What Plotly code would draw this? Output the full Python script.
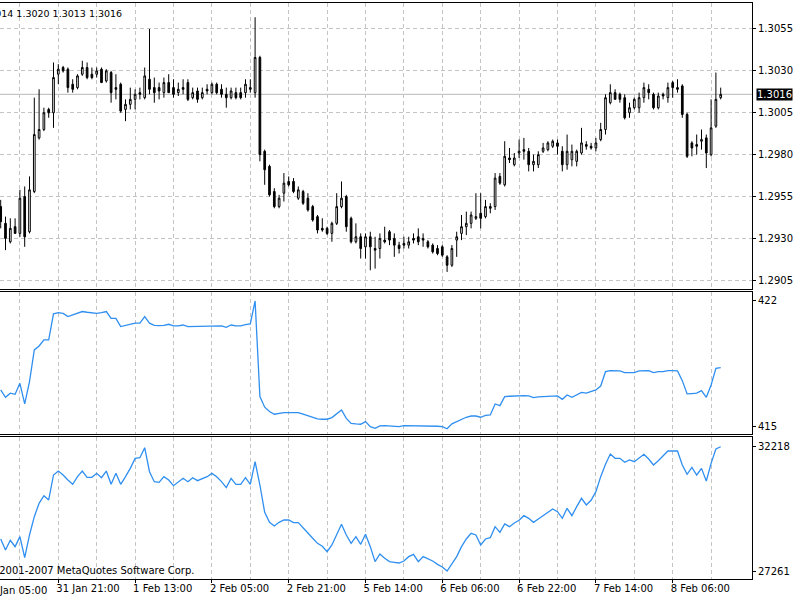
import plotly.graph_objects as go

# ---------------- data ----------------
symbol_text = "EURUSD,H1"

opens = [1.2949,1.2939,1.2928,1.2937,1.2933,1.2955,1.2934,1.2958,1.2990,1.2995,
         1.3007,1.3005,1.3028,1.3032,1.3031,1.3022,1.3020,1.3028,1.3032,1.3028,
         1.3028,1.3031,1.3024,1.3029,1.3020,1.3022,1.3007,1.3010,1.3013,1.3017,
         1.3014,1.3025,1.3020,1.3020,1.3017,1.3023,1.3020,1.3017,1.3020,1.3023,
         1.3014,1.3018,1.3014,1.3019,1.3017,1.3022,1.3019,1.3016,1.3014,1.3017,
         1.3017,1.3017,1.3020,1.3017,1.3038,1.2982,1.2973,1.2958,1.2949,1.2957,
         1.2964,1.2964,1.2954,1.2958,1.2954,1.2949,1.2943,1.2936,1.2936,1.2933,
         1.2939,1.2949,1.2955,1.2942,1.2928,1.2931,1.2925,1.2931,1.2924,1.2924,
         1.2929,1.2934,1.2930,1.2926,1.2927,1.2926,1.2930,1.2931,1.2930,1.2928,
         1.2926,1.2924,1.2925,1.2919,1.2914,1.2929,1.2933,1.2937,1.2939,1.2942,
         1.2945,1.2943,1.2949,1.2949,1.2967,1.2962,1.2978,1.2974,1.2981,1.2983,
         1.2982,1.2974,1.2974,1.2982,1.2983,1.2985,1.2987,1.2982,1.2974,1.2977,
         1.2976,1.2981,1.2986,1.2985,1.2984,1.2989,1.2995,1.3011,1.3017,1.3016,
         1.3014,1.3005,1.3008,1.3008,1.3014,1.3019,1.3016,1.3008,1.3016,1.3014,
         1.3023,1.3020,1.3021,1.3004,1.2987,1.2986,1.2988,1.2990,1.2980,1.2997,
         1.3014]
highs = [1.2953,1.2943,1.2942,1.2942,1.2959,1.2961,1.2967,1.3014,1.3019,1.3008,
         1.3008,1.3035,1.3034,1.3033,1.3032,1.3025,1.3028,1.3036,1.3035,1.3032,
         1.3032,1.3032,1.3031,1.3030,1.3028,1.3023,1.3013,1.3020,1.3019,1.3020,
         1.3032,1.3055,1.3026,1.3023,1.3026,1.3028,1.3025,1.3023,1.3025,1.3025,
         1.3020,1.3020,1.3020,1.3022,1.3023,1.3023,1.3022,1.3020,1.3020,1.3020,
         1.3020,1.3025,1.3025,1.3062,1.3039,1.2983,1.2974,1.2960,1.2956,1.2969,
         1.2967,1.2966,1.2961,1.2959,1.2957,1.2950,1.2944,1.2942,1.2937,1.2940,
         1.2957,1.2964,1.2956,1.2943,1.2939,1.2933,1.2933,1.2934,1.2931,1.2933,
         1.2937,1.2935,1.2933,1.2928,1.2931,1.2931,1.2933,1.2936,1.2933,1.2929,
         1.2927,1.2926,1.2926,1.2920,1.2926,1.2934,1.2944,1.2946,1.2946,1.2957,
         1.2957,1.2953,1.2951,1.2969,1.2969,1.2988,1.2984,1.2981,1.2989,1.2990,
         1.2984,1.2980,1.2982,1.2987,1.2988,1.2989,1.2989,1.2985,1.2992,1.2986,
         1.2983,1.2996,1.2988,1.2987,1.2990,1.2999,1.3016,1.3022,1.3019,1.3017,
         1.3016,1.3011,1.3014,1.3017,1.3023,1.3022,1.3017,1.3017,1.3017,1.3023,
         1.3024,1.3025,1.3022,1.3005,1.2988,1.2992,1.2995,1.2992,1.3013,1.3029,
         1.3020]
lows = [1.2936,1.2923,1.2927,1.2933,1.2931,1.2925,1.2933,1.2957,1.2989,1.2994,
        1.3002,1.2996,1.3022,1.3029,1.3017,1.3017,1.3019,1.3027,1.3025,1.3025,
        1.3026,1.3023,1.3023,1.3011,1.3013,1.3005,1.3000,1.3007,1.3007,1.3013,
        1.3013,1.3016,1.3011,1.3013,1.3014,1.3017,1.3014,1.3015,1.3016,1.3012,
        1.3013,1.3011,1.3013,1.3016,1.3016,1.3016,1.3014,1.3008,1.3013,1.3013,
        1.3013,1.3014,1.3017,1.3014,1.2976,1.2962,1.2955,1.2948,1.2948,1.2952,
        1.2961,1.2957,1.2953,1.2950,1.2946,1.2940,1.2933,1.2934,1.2932,1.2928,
        1.2938,1.2948,1.2934,1.2927,1.2927,1.2918,1.2918,1.2911,1.2912,1.2918,
        1.2927,1.2926,1.2919,1.2921,1.2924,1.2924,1.2927,1.2926,1.2925,1.2924,
        1.2921,1.2920,1.2919,1.2910,1.2913,1.2919,1.2929,1.2932,1.2936,1.2941,
        1.2936,1.2942,1.2945,1.2947,1.2962,1.2961,1.2975,1.2973,1.2978,1.2977,
        1.2970,1.2970,1.2972,1.2981,1.2982,1.2984,1.2980,1.2970,1.2971,1.2973,
        1.2973,1.2980,1.2983,1.2983,1.2982,1.2988,1.2992,1.3010,1.3013,1.3011,
        1.3001,1.3002,1.3007,1.3005,1.3011,1.3013,1.3007,1.3007,1.3013,1.3011,
        1.3014,1.3017,1.3002,1.2978,1.2979,1.2980,1.2983,1.2972,1.2979,1.2996,
        1.3013]
closes = [1.2940,1.2930,1.2936,1.2933,1.2954,1.2931,1.2959,1.2992,1.2995,1.3005,
          1.3005,1.3026,1.3031,1.3030,1.3020,1.3019,1.3027,1.3032,1.3026,1.3026,
          1.3030,1.3023,1.3030,1.3017,1.3019,1.3006,1.3010,1.3013,1.3016,1.3016,
          1.3027,1.3019,1.3017,1.3018,1.3023,1.3017,1.3016,1.3019,1.3019,1.3013,
          1.3017,1.3013,1.3017,1.3018,1.3022,1.3017,1.3016,1.3014,1.3018,1.3014,
          1.3014,1.3022,1.3019,1.3038,1.2980,1.2971,1.2956,1.2949,1.2954,1.2963,
          1.2962,1.2958,1.2959,1.2951,1.2947,1.2941,1.2935,1.2935,1.2933,1.2939,
          1.2949,1.2954,1.2937,1.2928,1.2931,1.2924,1.2931,1.2925,1.2923,1.2930,
          1.2928,1.2929,1.2926,1.2924,1.2926,1.2928,1.2929,1.2928,1.2929,1.2925,
          1.2922,1.2921,1.2920,1.2914,1.2924,1.2931,1.2937,1.2939,1.2944,1.2943,
          1.2942,1.2949,1.2948,1.2966,1.2963,1.2979,1.2977,1.2978,1.2982,1.2982,
          1.2974,1.2976,1.2980,1.2984,1.2987,1.2988,1.2985,1.2974,1.2982,1.2982,
          1.2982,1.2987,1.2985,1.2984,1.2987,1.2995,1.3014,1.3017,1.3013,1.3013,
          1.3002,1.3008,1.3013,1.3014,1.3020,1.3017,1.3008,1.3015,1.3015,1.3020,
          1.3020,1.3019,1.3004,1.2979,1.2984,1.2985,1.2989,1.2981,1.2996,1.3013,
          1.3016]

indicator1 = [417.04,416.63,416.86,416.80,417.41,416.26,417.51,419.27,419.49,419.83,
              419.83,421.28,421.35,421.31,421.13,421.22,421.35,421.41,421.37,421.35,
              421.31,421.35,421.41,421.03,421.03,420.57,420.63,420.72,420.76,420.76,
              421.13,420.76,420.64,420.63,420.64,420.70,420.61,420.61,420.66,420.57,
              420.57,420.57,420.61,420.61,420.61,420.61,420.61,420.53,420.66,420.61,
              420.61,420.68,420.72,422.00,416.67,416.08,415.84,415.69,415.74,415.78,
              415.78,415.78,415.78,415.70,415.61,415.52,415.43,415.41,415.41,415.50,
              415.69,415.93,415.46,415.18,415.15,415.13,415.28,415.00,414.90,415.04,
              415.05,415.02,415.00,415.00,415.05,415.05,415.05,415.05,415.05,415.04,
              415.02,415.02,415.00,414.88,415.15,415.28,415.43,415.52,415.59,415.59,
              415.52,415.63,415.65,416.26,416.17,416.67,416.69,416.71,416.73,416.73,
              416.71,416.61,416.65,416.67,416.69,416.71,416.71,416.52,416.76,416.63,
              416.76,416.91,416.86,416.93,417.04,417.26,418.06,418.12,418.12,418.10,
              418.01,418.01,418.01,418.10,418.12,418.12,418.01,418.06,418.06,418.12,
              418.12,418.10,417.56,416.82,416.84,416.86,417.00,416.63,417.32,418.25,
              418.29]

indicator2 = [28538,28099,28485,28232,28631,27793,28698,29428,29960,30266,
              30093,31090,31249,31090,30890,30718,31023,31249,30997,30997,
              31156,30983,31249,30718,31156,30718,31023,31355,31754,31781,
              32180,31222,30824,30797,31023,30890,30665,30824,30957,30824,
              30983,30864,30930,31023,31156,31023,30824,30585,30957,30718,
              30718,30983,30718,31621,30691,29601,29202,29056,29202,29295,
              29295,29189,29189,28963,28777,28565,28365,28246,28033,28299,
              28698,29122,28698,28365,28631,28325,28724,28232,27634,27940,
              27767,27634,27607,27581,27660,27833,27926,27634,27833,27740,
              27660,27527,27421,27261,27567,27833,28232,28538,28764,28698,
              28299,28538,28591,29030,28804,29136,29030,29176,29282,29468,
              29362,29202,29335,29468,29601,29734,29628,29362,29761,29468,
              29827,30160,29894,30080,30426,31023,31515,31927,31754,31754,
              31595,31688,31621,31754,31914,31728,31488,31661,31860,32047,
              32047,32047,31488,31116,31395,31090,31355,30850,31555,32126,
              32218]

time_tick_bars = [12, 28, 44, 60, 76, 92, 108, 124, 140]
time_tick_labels = ["31 Jan 21:00", "1 Feb 13:00", "2 Feb 05:00", "2 Feb 21:00",
                    "5 Feb 14:00", "6 Feb 06:00", "6 Feb 22:00", "7 Feb 14:00",
                    "8 Feb 06:00"]
offscreen_label_bar = -4
offscreen_label = "31 Jan 05:00"
grid_mid_bars = [4, 20, 36, 52, 68, 84, 100, 116, 132, 148]
price_ticks = [1.2905, 1.2930, 1.2955, 1.2980, 1.3005, 1.3030, 1.3055]
copyright_text = "\u00a9 2001-2007 MetaQuotes Software Corp."

bars = list(range(len(closes)))

# ---------------- styling ----------------
FONT = "DejaVu Sans"
GRID = "#c4c4c4"
DASH = "4px,3px"
BLUE = "#2f8ff0"
X_RANGE = [-0.146, 156.52]
PLOT_W = 752

fig = go.Figure()

fig.add_trace(go.Candlestick(
    x=bars, open=opens, high=highs, low=lows, close=closes,
    increasing=dict(line=dict(color="black", width=1), fillcolor="white"),
    decreasing=dict(line=dict(color="black", width=1), fillcolor="black"),
    whiskerwidth=0, showlegend=False, hoverinfo="skip",
    xaxis="x", yaxis="y"))

fig.add_trace(go.Scatter(x=bars, y=indicator1, mode="lines",
                         line=dict(color=BLUE, width=1.3),
                         showlegend=False, xaxis="x2", yaxis="y2"))
fig.add_trace(go.Scatter(x=bars, y=indicator2, mode="lines",
                         line=dict(color=BLUE, width=1.3),
                         showlegend=False, xaxis="x3", yaxis="y3"))

def xax(anchor, labels):
    d = dict(range=X_RANGE, anchor=anchor, showline=True, mirror=True,
             linecolor="black", linewidth=1, zeroline=False,
             tickmode="array", tickvals=time_tick_bars,
             showgrid=True, gridcolor=GRID, griddash=DASH, gridwidth=1,
             minor=dict(tickmode="array", tickvals=grid_mid_bars, showgrid=True,
                        gridcolor=GRID, griddash=DASH, gridwidth=1, ticks=""),
             fixedrange=True)
    if labels:
        d.update(ticktext=time_tick_labels, showticklabels=True, ticks="outside",
                 ticklen=3, tickcolor="black", ticklabelposition="outside right",
                 ticklabelshift=-3,
                 tickfont=dict(family=FONT, size=10, color="black"))
    else:
        d.update(showticklabels=False, ticks="")
    return d

yfont = dict(family=FONT, size=10, color="black")

fig.update_layout(
    width=800, height=600,
    margin=dict(l=0, r=48, t=3, b=21),
    paper_bgcolor="white", plot_bgcolor="white",
    boxgap=0.5,
    showlegend=False,
    xaxis=dict(**xax("y", False), rangeslider=dict(visible=False)),
    xaxis2=xax("y2", False),
    xaxis3=xax("y3", True),
    yaxis=dict(domain=[0.5043, 1.0], anchor="x", side="right",
               range=[1.29001, 1.30705], tickmode="array", tickvals=price_ticks,
               tickformat=".4f", showgrid=True, gridcolor=GRID, griddash=DASH,
               ticks="outside", ticklen=3, tickcolor="black", tickfont=yfont,
               showline=True, linecolor="black", linewidth=1, zeroline=False,
               fixedrange=True),
    yaxis2=dict(domain=[0.2509, 0.4983], anchor="x2", side="right",
                range=[414.56, 422.50], tickmode="array",
                tickvals=[round(min(indicator1)), round(max(indicator1))],
                tickformat=".0f", showgrid=False,
                ticks="outside", ticklen=3, tickcolor="black", tickfont=yfont,
                showline=True, linecolor="black", linewidth=1, zeroline=False,
                fixedrange=True),
    yaxis3=dict(domain=[0.0, 0.2465], anchor="x3", side="right",
                range=[26942, 32605], tickmode="array",
                tickvals=[min(indicator2), max(indicator2)],
                tickformat="d", showgrid=False,
                ticks="outside", ticklen=3, tickcolor="black", tickfont=yfont,
                showline=True, linecolor="black", linewidth=1, zeroline=False,
                fixedrange=True),
)

# bid line and its price tag
last_close = closes[-1]
fig.add_shape(type="line", xref="paper", x0=0, x1=1, yref="y",
              y0=last_close, y1=last_close,
              line=dict(color="#b8b8b8", width=1), layer="below")
fig.add_annotation(xref="paper", x=1, xanchor="left", xshift=4,
                   yref="y", y=last_close, yanchor="middle",
                   text=f"{last_close:.4f}", showarrow=False,
                   bgcolor="black", borderpad=0,
                   font=dict(family=FONT, size=10, color="white"))

# OHLC info line (top-left, partly cut off by the window edge as in the original)
info = f"{symbol_text}  {opens[-1]:.4f} {highs[-1]:.4f} {lows[-1]:.4f} {closes[-1]:.4f}"
fig.add_annotation(xref="paper", x=124 / PLOT_W, xanchor="right",
                   yref="paper", y=0.9821, yanchor="middle",
                   text=info, showarrow=False,
                   font=dict(family=FONT, size=9.5, color="black"))

# copyright line
fig.add_annotation(xref="paper", x=196 / PLOT_W, xanchor="right",
                   yref="paper", y=0.0139, yanchor="middle",
                   text=copyright_text, showarrow=False,
                   font=dict(family=FONT, size=10, color="black"))

# time label of the bar that lies just left of the visible window
fx = (offscreen_label_bar - X_RANGE[0]) / (X_RANGE[1] - X_RANGE[0])
fig.add_annotation(xref="paper", x=fx, xanchor="left", xshift=0,
                   yref="paper", y=0, yanchor="top", yshift=-4,
                   text=offscreen_label, showarrow=False,
                   font=dict(family=FONT, size=10, color="black"))

fig.write_html("out.html")
